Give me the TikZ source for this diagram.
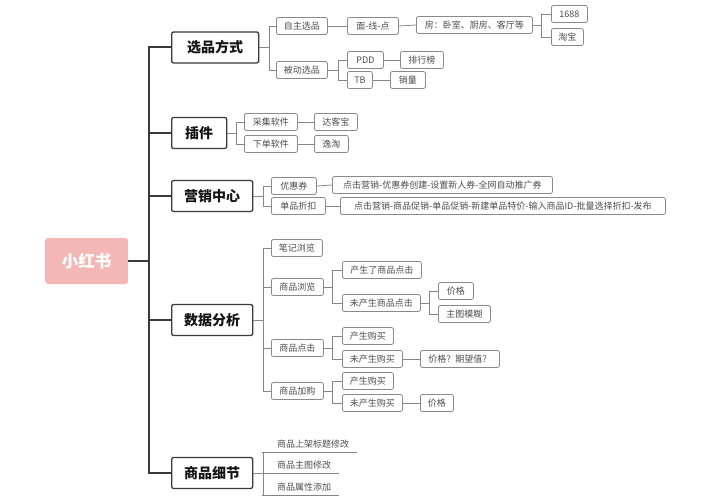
\documentclass[tikz,border=0pt]{standalone}
\usepackage{fontspec}
\setmainfont{Noto Sans CJK SC}
\definecolor{rootfill}{HTML}{F3B8B5}
\definecolor{subline}{HTML}{8A8A8A}
\definecolor{subtext}{HTML}{4D4D4D}
\definecolor{mainline}{HTML}{3A3A3A}
\definecolor{conncol}{HTML}{858585}
\tikzset{
  rootbox/.style={fill=rootfill, draw=none, rounded corners=3pt, minimum width=83, minimum height=46,
    font=\fontsize{16.5}{16.5}\selectfont\bfseries, text=white, inner sep=0, anchor=west},
  mainbox/.style={draw=mainline, line width=1.3pt, rounded corners=2pt, fill=white,
    font=\fontsize{14}{14}\selectfont\bfseries, text=black!92, minimum height=31, inner sep=0, anchor=west},
  subbox/.style={draw=subline, line width=0.8pt, rounded corners=2pt, fill=white,
    font=\fontsize{9}{9}\selectfont, text=subtext, minimum height=17, inner sep=0, anchor=west},
  leafline/.style={font=\fontsize{9}{9}\selectfont, text=subtext, inner xsep=0, inner ysep=3.5, anchor=south west},
  conn/.style={draw=conncol, line width=0.8pt},
  trunk/.style={draw=mainline, line width=2pt},
}
\begin{document}
\begin{tikzpicture}[x=1pt,y=-1pt]
\useasboundingbox (0,0) rectangle (707,500);
% root
\node[rootbox] (root) at (45,261) {小红书};
\coordinate (t) at (149,0);
% main nodes
\node[mainbox, minimum width=87] (xp) at (171,47.5) {选品方式};
\node[mainbox, minimum width=55] (cj) at (171,133) {插件};
\node[mainbox, minimum width=81] (yx) at (171,196) {营销中心};
\node[mainbox, minimum width=81] (sj) at (171,320) {数据分析};
\node[mainbox, minimum width=81] (xj) at (171,473) {商品细节};
% trunk
\draw[trunk] (root.east) -- (t |- root.east);
\draw[trunk] (xp.west) -- (t |- xp.west) -- (t |- xj.west) -- (xj.west);
\draw[trunk] (t |- cj.west) -- (cj.west);
\draw[trunk] (t |- yx.west) -- (yx.west);
\draw[trunk] (t |- sj.west) -- (sj.west);
% 选品方式
\node[subbox, minimum width=51] (a1) at (276,26) {自主选品};
\node[subbox, minimum width=51] (a2) at (276,70) {被动选品};
\node[subbox, minimum width=51] (a3) at (347,26) {面-线-点};
\node[subbox, minimum width=116] (a4) at (416,25) {房：卧室、厨房、客厅等};
\node[subbox, minimum width=36] (a5) at (551,14) {1688};
\node[subbox, minimum width=32] (a6) at (551,37) {淘宝};
\node[subbox, minimum width=36] (a7) at (347,60) {PDD};
\node[subbox, minimum width=43] (a8) at (400,60) {排行榜};
\node[subbox, minimum width=25] (a9) at (347,80) {TB};
\node[subbox, minimum width=35] (a10) at (390,80) {销量};
\draw[conn] (xp.east) -- ++(10,0) |- (a1.west);
\draw[conn] (xp.east) -- ++(10,0) |- (a2.west);
\draw[conn] (a1.east) -- (a3.west);
\draw[conn] (a3.east) -- (a4.west);
\draw[conn] (a4.east) -- ++(9,0) |- (a5.west);
\draw[conn] (a4.east) -- ++(9,0) |- (a6.west);
\draw[conn] (a2.east) -- ++(11,0) |- (a7.west);
\draw[conn] (a2.east) -- ++(11,0) |- (a9.west);
\draw[conn] (a7.east) -- (a8.west);
\draw[conn] (a9.east) -- (a10.west);
% 插件
\node[subbox, minimum width=53] (b1) at (244,122) {采集软件};
\node[subbox, minimum width=53] (b2) at (244,144) {下单软件};
\node[subbox, minimum width=43] (b3) at (314,122) {达客宝};
\node[subbox, minimum width=34] (b4) at (314,144) {逸淘};
\draw[conn] (cj.east) -- ++(9,0) |- (b1.west);
\draw[conn] (cj.east) -- ++(9,0) |- (b2.west);
\draw[conn] (b1.east) -- (b3.west);
\draw[conn] (b2.east) -- (b4.west);
% 营销中心
\node[subbox, minimum width=45] (c1) at (271,186) {优惠券};
\node[subbox, minimum width=54] (c2) at (271,206) {单品折扣};
\node[subbox, minimum width=220] (c3) at (332,185) {点击营销-优惠券创建-设置新人券-全网自动推广券};
\node[subbox, minimum width=325] (c4) at (340,206) {点击营销-商品促销-单品促销-新建单品特价-输入商品ID-批量选择折扣-发布};
\draw[conn] (yx.east) -- ++(10,0) |- (c1.west);
\draw[conn] (yx.east) -- ++(10,0) |- (c2.west);
\draw[conn] (c1.east) -- (c3.west);
\draw[conn] (c2.east) -- (c4.west);
% 数据分析
\node[subbox, minimum width=51] (d1) at (271,248) {笔记浏览};
\node[subbox, minimum width=52] (d2) at (271,287) {商品浏览};
\node[subbox, minimum width=52] (d3) at (271,348) {商品点击};
\node[subbox, minimum width=52] (d4) at (271,391) {商品加购};
\node[subbox, minimum width=79] (d5) at (342,270) {产生了商品点击};
\node[subbox, minimum width=78] (d6) at (342,303) {未产生商品点击};
\node[subbox, minimum width=35] (d7) at (438,291) {价格};
\node[subbox, minimum width=52] (d8) at (438,314) {主图模糊};
\node[subbox, minimum width=51] (d9) at (342,336) {产生购买};
\node[subbox, minimum width=60] (d10) at (342,359) {未产生购买};
\node[subbox, minimum width=79] (d11) at (420,359) {价格？期望值？};
\node[subbox, minimum width=51] (d12) at (342,381) {产生购买};
\node[subbox, minimum width=60] (d13) at (342,403) {未产生购买};
\node[subbox, minimum width=33] (d14) at (420,403) {价格};
\foreach \c in {d1,d2,d3,d4} \draw[conn] (sj.east) -- ++(10,0) |- (\c.west);
\draw[conn] (d2.east) -- ++(9,0) |- (d5.west);
\draw[conn] (d2.east) -- ++(9,0) |- (d6.west);
\draw[conn] (d6.east) -- ++(9,0) |- (d7.west);
\draw[conn] (d6.east) -- ++(9,0) |- (d8.west);
\draw[conn] (d3.east) -- ++(9,0) |- (d9.west);
\draw[conn] (d3.east) -- ++(9,0) |- (d10.west);
\draw[conn] (d10.east) -- (d11.west);
\draw[conn] (d4.east) -- ++(9,0) |- (d12.west);
\draw[conn] (d4.east) -- ++(9,0) |- (d13.west);
\draw[conn] (d13.east) -- (d14.west);
% 商品细节
\node[leafline] (e1) at (262,452) {\makebox[95pt][l]{\hspace{15pt}商品上架标题修改}};
\node[leafline] (e2) at (262,473) {\makebox[77pt][l]{\hspace{15pt}商品主图修改}};
\node[leafline] (e3) at (262,495) {\makebox[77pt][l]{\hspace{15pt}商品属性添加}};
\draw[conn] (xj.east) -- ++(10,0) |- (e1.south west);
\draw[conn] (xj.east) -- ++(10,0) |- (e3.south west);
\draw[conn] (xj.east) -- (e2.south west);
\draw[conn] (e1.south west) -- (e1.south east);
\draw[conn] (e2.south west) -- (e2.south east);
\draw[conn] (e3.south west) -- (e3.south east);
\end{tikzpicture}
\end{document}
